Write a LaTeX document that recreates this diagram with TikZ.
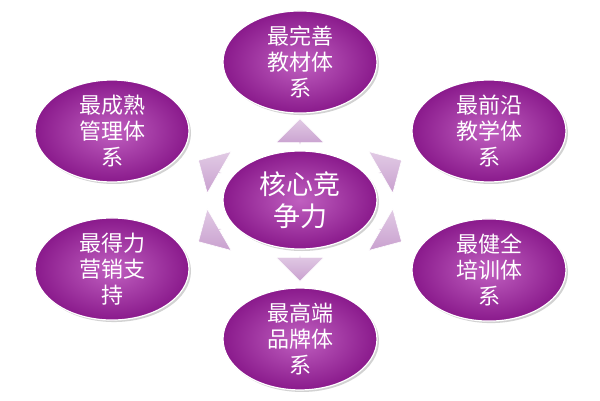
\documentclass[tikz,border=0pt]{standalone}
\usepackage{fontspec}
\newfontfamily\cjk{Noto Sans CJK SC}[BoldFont={Noto Sans CJK SC Bold}]
\usetikzlibrary{shapes.arrows,shapes.geometric,shadows}
\definecolor{pdark}{HTML}{8A1A8C}
\definecolor{plight}{HTML}{C060C0}
\definecolor{arr}{HTML}{C9A0CF}
\tikzset{
 bub/.style={ellipse, minimum width=154pt, minimum height=98pt, inner sep=0pt,
   draw=white, line width=1.2pt, inner color=plight, outer color=pdark,
   drop shadow={shadow xshift=2pt, shadow yshift=-2pt, fill=black!35},
   text=white, font=\cjk\fontsize{22}{26}\selectfont, align=center},
 blk/.style={single arrow, minimum width=48pt, minimum height=26pt, single arrow head extend=10pt,
   inner sep=0pt, top color=arr!55, bottom color=arr, draw=white, line width=0.6pt},
}
\begin{document}
\begin{tikzpicture}[x=1pt,y=-1pt]
\useasboundingbox (0,0) rectangle (600,400);
\node[bub] (t) at (300,62) {最完善\\教材体\\系};
\node[bub] (tl) at (112,131) {最成熟\\管理体\\系};
\node[bub] (tr) at (489,131) {最前沿\\教学体\\系};
\node[bub, font=\cjk\fontsize{27}{32}\selectfont] (c) at (300,200) {核心竞\\争力};
\node[bub] (bl) at (112,269) {最得力\\营销支\\持};
\node[bub] (br) at (489,270) {最健全\\培训体\\系};
\node[bub] (b) at (300,339) {最高端\\品牌体\\系};
\node[blk, rotate=90] (a1) at (300,132) {};
\node[blk, rotate=-90] (a2) at (300,268) {};
\node[blk, rotate=150] (a3) at (210,167) {};
\node[blk, rotate=30] (a4) at (390,167) {};
\node[blk, rotate=-150] (a5) at (210,235) {};
\node[blk, rotate=-30] (a6) at (390,235) {};
\end{tikzpicture}
\end{document}
